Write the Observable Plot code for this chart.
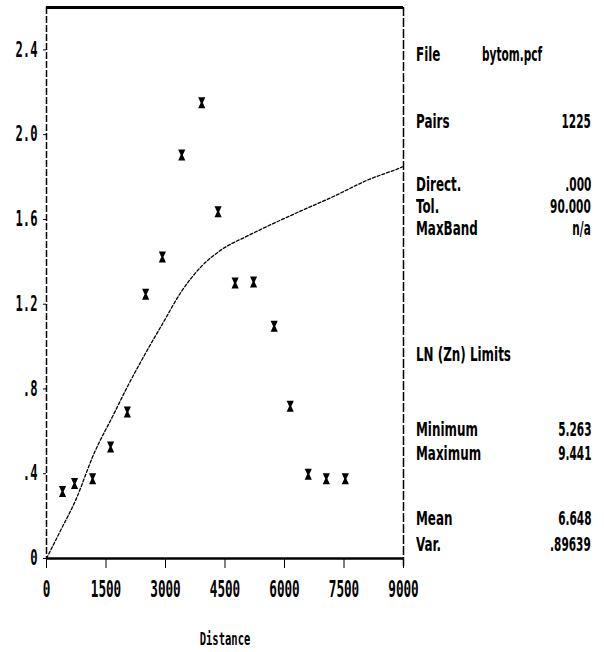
<!DOCTYPE html>
<html><head><meta charset="utf-8">
<script src="https://cdn.jsdelivr.net/npm/d3@7"></script>
<script src="https://cdn.jsdelivr.net/npm/@observablehq/plot@0.6"></script>
<style>
body{margin:0;background:#fff;}
#wrap{position:relative;width:604px;height:652px;overflow:hidden;}
#wrap svg{position:absolute;left:0;top:0;}
.row{position:absolute;left:416px;width:175px;height:0;}
.row span{position:absolute;top:0;display:inline-block;white-space:nowrap;font-family:"DejaVu Sans Condensed","DejaVu Sans",sans-serif;font-size:19.5px;line-height:19px;margin-top:-10px;color:#000;}
.lab{left:0;font-weight:bold;transform:scaleX(0.68);transform-origin:left center;}
.val{right:0;font-weight:bold;transform:scaleX(0.6);transform-origin:right center;}
.val.left{right:auto;left:66px;transform-origin:left center;}
</style>
</head><body>
<div id="wrap"></div>
<script>
// ---- data ----
const lagDistance = [404, 707, 1162, 1616, 2038, 2500, 2921, 3409, 3914, 4326, 4755, 5220, 5740, 6144, 6599, 7054, 7533];
const semivariance = [0.316, 0.354, 0.376, 0.526, 0.691, 1.247, 1.423, 1.904, 2.151, 1.636, 1.300, 1.305, 1.096, 0.718, 0.397, 0.376, 0.376];
const modelDistance = [0, 354, 732, 1195, 1700, 2038, 2457, 2963, 3384, 3889, 4394, 5067, 5572, 6414, 7256, 8098, 8924, 9000];
const modelGamma = [0, 0.132, 0.274, 0.494, 0.683, 0.810, 0.955, 1.120, 1.255, 1.375, 1.455, 1.522, 1.568, 1.640, 1.710, 1.786, 1.844, 1.850];
const xTicks = [0, 1500, 3000, 4500, 6000, 7500, 9000];
const xTickLabels = ["0", "1500", "3000", "4500", "6000", "7500", "9000"];
const yTicks = [0, 0.4, 0.8, 1.2, 1.6, 2.0, 2.4];
const yTickLabels = ["0", ".4", ".8", "1.2", "1.6", "2.0", "2.4"];
const xLabel = "Distance";
const panelLabels = ["File", "Pairs", "Direct.", "Tol.", "MaxBand", "LN (Zn) Limits", "Minimum", "Maximum", "Mean", "Var."];
const panelValues = ["bytom.pcf", "1225", ".000", "90.000", "n/a", "", "5.263", "9.441", "6.648", ".89639"];

// ---- layout ----
const panelRowY = [55, 122, 185, 207, 229, 355, 430, 454, 519, 545];

const points = lagDistance.map((d, i) => ({d, g: semivariance[i]}));
const model = modelDistance.map((d, i) => ({d, g: modelGamma[i]}));

const hourglass = {
  draw(ctx, size) {
    const r = Math.sqrt(size / Math.PI), w = r * 0.65, h = r;
    ctx.moveTo(-w, -h); ctx.lineTo(w, -h); ctx.lineTo(w * 0.3, 0);
    ctx.lineTo(w, h); ctx.lineTo(-w, h); ctx.lineTo(-w * 0.3, 0); ctx.closePath();
  }
};

const chart = Plot.plot({
  width: 604, height: 652,
  marginLeft: 46, marginRight: 201, marginTop: 7, marginBottom: 94,
  style: {background: "white", color: "black", fontFamily: "'DejaVu Sans Mono', monospace", fontWeight: "bold"},
  x: {domain: [0, 9000]},
  y: {domain: [0, 2.6]},
  marks: [
    Plot.ruleX([0], {stroke: "black", strokeWidth: 1.5, strokeDasharray: "7,2"}),
    Plot.ruleX([9000], {stroke: "black", strokeWidth: 1.5, strokeDasharray: "9,2", insetBottom: -8}),
    Plot.ruleY([0], {stroke: "black", strokeWidth: 2.5}),
    Plot.ruleY([2.6], {stroke: "black", strokeWidth: 3}),
    Plot.line(model, {x: "d", y: "g", stroke: "black", strokeWidth: 1.3, strokeDasharray: "3,2", curve: "monotone-x"}),
    Plot.dot(points, {x: "d", y: "g", r: 5.5, symbol: hourglass, fill: "black", stroke: "none"}),
    Plot.axisX({ticks: xTicks, tickFormat: d => xTickLabels[xTicks.indexOf(d)], tickSize: 10, tickPadding: 12, fontSize: 23,
      label: xLabel, labelAnchor: "center", labelOffset: 86, labelArrow: "none"}),
    Plot.axisY({ticks: yTicks, tickFormat: d => yTickLabels[yTicks.indexOf(d)], tickSize: 3, tickPadding: 6, fontSize: 21, label: null})
  ]
});

function squeeze(sel, k, fs) {
  sel.each(function () {
    this.setAttribute("font-size", fs);
    this.style.fontSize = fs + "px";
    this.style.fontWeight = "bold";
    this.style.fontFamily = "'DejaVu Sans Mono', monospace";
    const xa = this.getAttribute("x");
    let t = this.getAttribute("transform") || "";
    if (xa != null && !isNaN(+xa)) { t += ` translate(${+xa},0)`; this.removeAttribute("x"); }
    this.setAttribute("transform", `${t} scale(${k},1)`);
  });
}
const s = d3.select(chart);
squeeze(s.selectAll('g[aria-label="x-axis tick label"] text'), 0.55, 23);
squeeze(s.selectAll('g[aria-label="y-axis tick label"] text'), 0.58, 21);
squeeze(s.selectAll('g[aria-label="x-axis label"] text'), 0.62, 17);

const wrap = document.getElementById("wrap");
wrap.appendChild(chart);
panelLabels.forEach((l, i) => {
  const row = document.createElement("div");
  row.className = "row";
  row.style.top = panelRowY[i] + "px";
  const a = document.createElement("span");
  a.className = "lab"; a.textContent = l;
  row.appendChild(a);
  if (panelValues[i]) {
    const b = document.createElement("span");
    b.className = "val" + (i === 0 ? " left" : "");
    b.textContent = panelValues[i];
    row.appendChild(b);
  }
  wrap.appendChild(row);
});
</script>
</body></html>
